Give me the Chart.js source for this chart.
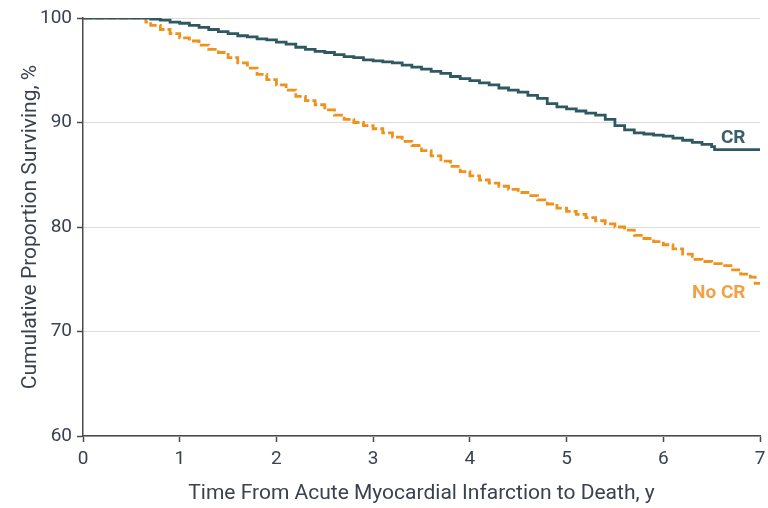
<!DOCTYPE html>
<html>
<head>
<meta charset="utf-8">
<script src="https://cdn.jsdelivr.net/npm/chart.js@4"></script>
<style>
  html, body { margin: 0; padding: 0; background: #fff; }
  #wrap { width: 768px; height: 508px; }
</style>
</head>
<body>
<div id="wrap"><canvas id="kmChart" width="768" height="508"></canvas></div>
<script>
// survival curves (years, % surviving)
const crTimes = [0, 0.64, 0.7, 0.8, 0.9, 1.0, 1.1, 1.2, 1.3, 1.4, 1.5, 1.6, 1.7, 1.8, 1.9, 2.0, 2.1, 2.2, 2.3, 2.4, 2.5, 2.6, 2.7, 2.8, 2.9, 3.0, 3.1, 3.2, 3.3, 3.4, 3.5, 3.6, 3.7, 3.8, 3.9, 4.0, 4.1, 4.2, 4.3, 4.4, 4.5, 4.6, 4.7, 4.8, 4.9, 5.0, 5.1, 5.2, 5.3, 5.4, 5.5, 5.6, 5.7, 5.8, 5.9, 6.0, 6.1, 6.2, 6.3, 6.4, 6.5, 6.53, 7.0];
const crSurvival = [100, 100, 99.9, 99.8, 99.6, 99.5, 99.3, 99.1, 98.9, 98.7, 98.5, 98.3, 98.2, 98.0, 97.9, 97.7, 97.5, 97.2, 97.0, 96.8, 96.7, 96.5, 96.3, 96.2, 96.0, 95.9, 95.8, 95.7, 95.5, 95.3, 95.1, 94.9, 94.7, 94.4, 94.2, 94.0, 93.8, 93.6, 93.3, 93.1, 92.9, 92.6, 92.3, 91.8, 91.5, 91.3, 91.1, 90.9, 90.7, 90.3, 89.7, 89.3, 89.0, 88.9, 88.8, 88.7, 88.5, 88.3, 88.1, 87.9, 87.7, 87.4, 87.4];

const noCrTimes = [0, 0.6, 0.65, 0.7, 0.8, 0.9, 1.0, 1.1, 1.2, 1.3, 1.4, 1.5, 1.6, 1.7, 1.8, 1.9, 2.0, 2.1, 2.2, 2.3, 2.4, 2.5, 2.6, 2.7, 2.8, 2.9, 3.0, 3.1, 3.2, 3.3, 3.4, 3.5, 3.6, 3.7, 3.8, 3.9, 4.0, 4.1, 4.2, 4.3, 4.4, 4.5, 4.6, 4.7, 4.8, 4.9, 5.0, 5.1, 5.2, 5.3, 5.4, 5.5, 5.6, 5.7, 5.8, 5.9, 6.0, 6.1, 6.2, 6.3, 6.4, 6.5, 6.6, 6.7, 6.8, 6.9, 6.95, 7.0];
const noCrSurvival = [100, 100, 99.6, 99.3, 98.9, 98.5, 98.1, 97.8, 97.4, 97.0, 96.7, 96.2, 95.7, 95.2, 94.6, 94.1, 93.6, 93.1, 92.5, 92.1, 91.7, 91.2, 90.7, 90.3, 90.0, 89.7, 89.4, 89.0, 88.6, 88.2, 87.8, 87.3, 86.8, 86.3, 85.8, 85.3, 84.9, 84.5, 84.2, 83.9, 83.6, 83.3, 83.0, 82.6, 82.2, 81.8, 81.5, 81.2, 80.9, 80.6, 80.3, 80.0, 79.7, 79.2, 78.9, 78.6, 78.3, 77.9, 77.4, 76.9, 76.7, 76.5, 76.3, 75.9, 75.5, 75.2, 74.6, 74.6];

const xTicks = [0, 1, 2, 3, 4, 5, 6, 7];
const yTicks = [60, 70, 80, 90, 100];

const curveLabels = [
  { text: "CR", x: 6.85, y: 88.45, color: "#3b5f68" },
  { text: "No CR", x: 6.85, y: 73.7, color: "#f3a047" }
];

const fontFamily = "Roboto, 'Noto Sans', sans-serif";
const textColor = "#3a4150";

function toPoints(xs, ys) {
  return xs.map((x, i) => ({ x: x, y: ys[i] }));
}

const curveLabelPlugin = {
  id: "curveLabels",
  afterDatasetsDraw(chart) {
    const c = chart.ctx;
    const xs = chart.scales.x, ys = chart.scales.y;
    c.save();
    c.font = "bold 19px " + fontFamily;
    c.textAlign = "right";
    c.textBaseline = "middle";
    curveLabels.forEach(l => {
      c.fillStyle = l.color;
      c.fillText(l.text, xs.getPixelForValue(l.x), ys.getPixelForValue(l.y));
    });
    c.restore();
  }
};

new Chart(document.getElementById("kmChart"), {
  type: "line",
  data: {
    datasets: [{
      label: "CR",
      data: toPoints(crTimes, crSurvival),
      borderColor: "#2e5961",
      borderWidth: 2.8,
      stepped: "before",
      pointRadius: 0,
      fill: false
    }, {
      label: "No CR",
      data: toPoints(noCrTimes, noCrSurvival),
      borderColor: "#f0911c",
      borderWidth: 2.8,
      borderDash: [9, 3],
      stepped: "before",
      pointRadius: 0,
      fill: false
    }]
  },
  options: {
    responsive: false,
    animation: false,
    layout: { padding: { top: 18, right: 0, left: 0, bottom: 0 } },
    plugins: {
      legend: { display: false },
      tooltip: { enabled: false }
    },
    scales: {
      x: {
        type: "linear",
        min: 0, max: 7,
        afterBuildTicks: s => { s.ticks = xTicks.map(v => ({ value: v })); },
        afterFit: s => { s.height = 72; s.paddingRight = 8; s.paddingLeft = 0; },
        border: { color: "#4a4a4a", width: 1.5 },
        grid: { drawOnChartArea: false, drawTicks: true, tickLength: 6, tickColor: "#4a4a4a", tickWidth: 1.5 },
        ticks: { color: textColor, font: { family: fontFamily, size: 19 }, padding: 6, maxRotation: 0 },
        title: { display: true, text: "Time From Acute Myocardial Infarction to Death, y", color: textColor, font: { family: fontFamily, size: 21 }, padding: { top: 0, bottom: 2 } }
      },
      y: {
        min: 60, max: 100,
        afterBuildTicks: s => { s.ticks = yTicks.map(v => ({ value: v })); },
        afterFit: s => { s.width = 83; },
        border: { color: "#4a4a4a", width: 1.5 },
        grid: { color: "#dcdcdc", lineWidth: 1, drawTicks: true, tickLength: 6, tickColor: "#4a4a4a", tickWidth: 1.5 },
        ticks: { color: textColor, font: { family: fontFamily, size: 19 }, padding: 5 },
        title: { display: true, text: "Cumulative Proportion Surviving, %", color: textColor, font: { family: fontFamily, size: 21 }, padding: { top: 18, bottom: 0 } }
      }
    }
  },
  plugins: [curveLabelPlugin]
});
</script>
</body>
</html>
